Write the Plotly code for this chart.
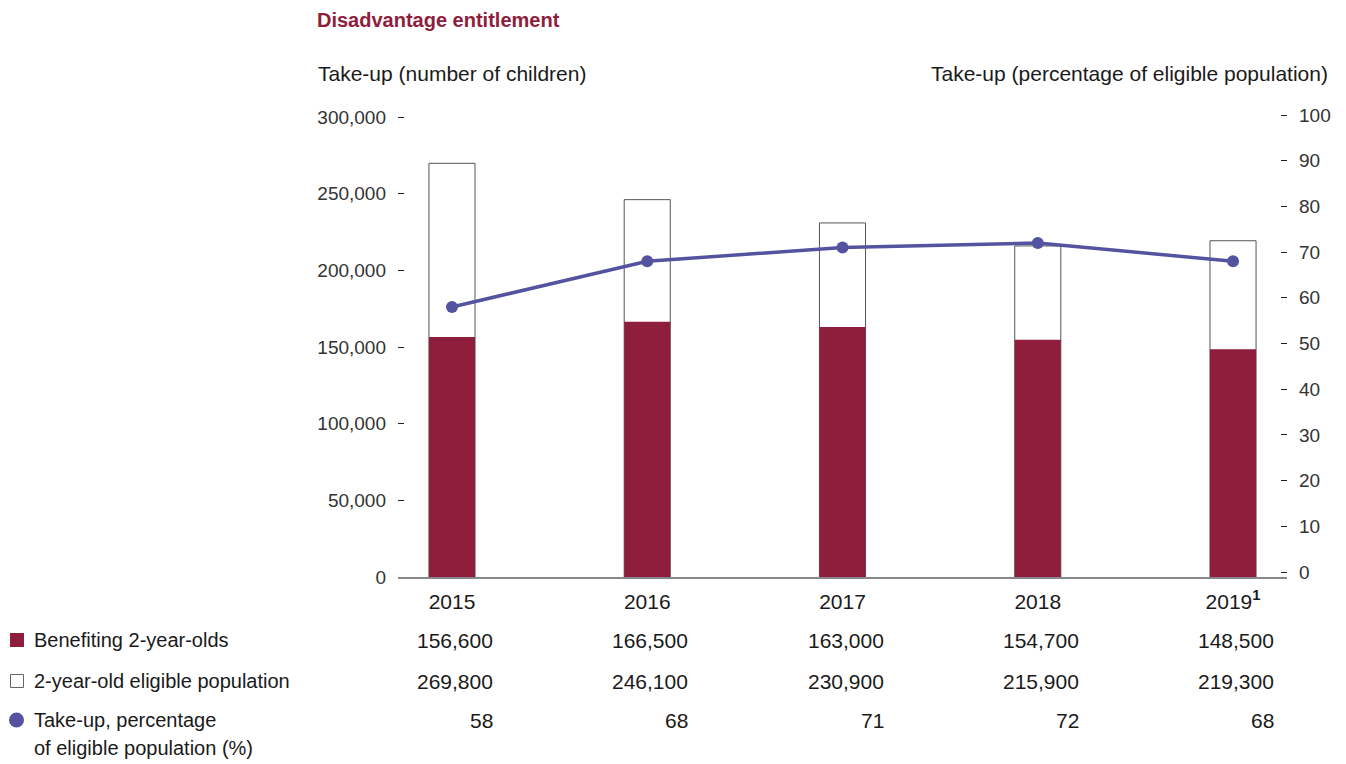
import plotly.graph_objects as go

years = ["2015", "2016", "2017", "2018", "2019"]
year_labels = ["2015", "2016", "2017", "2018", "2019<sup><b>1</b></sup>"]
benefiting = [156600, 166500, 163000, 154700, 148500]
eligible = [269800, 246100, 230900, 215900, 219300]
takeup_pct = [58, 68, 71, 72, 68]

left_ticks = [0, 50000, 100000, 150000, 200000, 250000, 300000]
right_ticks = [0, 10, 20, 30, 40, 50, 60, 70, 80, 90, 100]

MAROON = "#8F1D3C"
PURPLE = "#5453A0"
TXT = "#1a1a1a"
FONT = "Liberation Sans, Arial, sans-serif"

OFF = 8  # page body margin
W, H = 1338, 756
ML, MR, MT, MB = 390, 59, 102, 187
PW, PH = W - ML - MR, H - MT - MB

def px(x):
    return (x - OFF - ML) / PW

def py(y):
    return (H - MB - (y - OFF)) / PH

fig = go.Figure()
fig.add_trace(go.Bar(x=years, y=eligible, width=0.236,
                     marker=dict(color="white", line=dict(color="#555555", width=1)),
                     name="2-year-old eligible population", showlegend=False))
fig.add_trace(go.Bar(x=years, y=benefiting, width=0.236, marker=dict(color=MAROON, line=dict(width=0)),
                     name="Benefiting 2-year-olds", showlegend=False))
fig.add_trace(go.Scatter(x=years, y=takeup_pct, yaxis="y2", mode="lines+markers",
                         line=dict(color=PURPLE, width=3.5), marker=dict(color=PURPLE, size=12),
                         name="Take-up", showlegend=False))

fig.update_layout(
    width=W, height=H, margin=dict(l=ML, r=MR, t=MT, b=MB),
    paper_bgcolor="white", plot_bgcolor="white",
    barmode="overlay", font=dict(family=FONT, color=TXT, size=19),
    xaxis=dict(type="category", range=[-0.2765, 4.2765], tickvals=years, ticktext=year_labels,
               showline=True, linecolor="#888888", linewidth=1.5, ticks="", showgrid=False,
               tickfont=dict(size=21, color=TXT), ticklabelstandoff=5),
    yaxis=dict(range=[0, PH / 460 * 300000], tickvals=left_ticks,
               ticktext=[f"{v:,}" for v in left_ticks], showgrid=False, zeroline=False,
               ticks="inside", ticklen=6, tickcolor="#222222", tickwidth=1.2, showline=False,
               tickfont=dict(size=19, color="#333333"), ticklabelstandoff=11),
    yaxis2=dict(overlaying="y", side="right", range=[-1.09, 101.1], tickvals=right_ticks,
                showgrid=False, zeroline=False, ticks="inside", ticklen=6, tickcolor="#222222",
                tickwidth=1.2, showline=False, tickfont=dict(size=19, color="#333333"),
                ticklabelstandoff=11),
)

ann = []
ann.append(dict(text="<b>Disadvantage entitlement</b>", x=px(315), y=py(20), xref="paper", yref="paper",
                xanchor="left", yanchor="middle", showarrow=False,
                font=dict(size=20, color=MAROON, family=FONT)))
ann.append(dict(text="Take-up (number of children)", x=px(316), y=py(73), xref="paper", yref="paper",
                xanchor="left", yanchor="middle", showarrow=False, font=dict(size=21, color=TXT)))
ann.append(dict(text="Take-up (percentage of eligible population)", x=px(1330), y=py(73), xref="paper",
                yref="paper", xanchor="right", yanchor="middle", showarrow=False,
                font=dict(size=21, color=TXT)))

rows = [
    ("Benefiting 2-year-olds", [f"{v:,}" for v in benefiting], 640),
    ("2-year-old eligible population", [f"{v:,}" for v in eligible], 681),
    ("Take-up, percentage", [str(v) for v in takeup_pct], 720),
]
for label, vals, yy in rows:
    ann.append(dict(text=label, x=px(32), y=py(yy), xref="paper", yref="paper", xanchor="left",
                    yanchor="middle", showarrow=False, font=dict(size=20, color=TXT)))
    for i, v in enumerate(vals):
        ann.append(dict(text=v, x=i, xref="x", y=py(yy), yref="paper", xanchor="right",
                        yanchor="middle", xshift=43, showarrow=False, font=dict(size=21, color=TXT)))
ann.append(dict(text="of eligible population (%)", x=px(32), y=py(748), xref="paper", yref="paper",
                xanchor="left", yanchor="middle", showarrow=False, font=dict(size=20, color=TXT)))
fig.update_layout(annotations=ann)

shapes = [
    dict(type="rect", xref="paper", yref="paper", x0=px(10), x1=px(24), y0=py(647), y1=py(633),
         fillcolor=MAROON, line=dict(width=0)),
    dict(type="rect", xref="paper", yref="paper", x0=px(10.5), x1=px(23.5), y0=py(687.5), y1=py(674.5),
         fillcolor="white", line=dict(color="#666666", width=1)),
    dict(type="circle", xref="paper", yref="paper", x0=px(9), x1=px(24), y0=py(727.5), y1=py(712.5),
         fillcolor=PURPLE, line=dict(width=0)),
]
fig.update_layout(shapes=shapes)

fig.write_html("out.html")
